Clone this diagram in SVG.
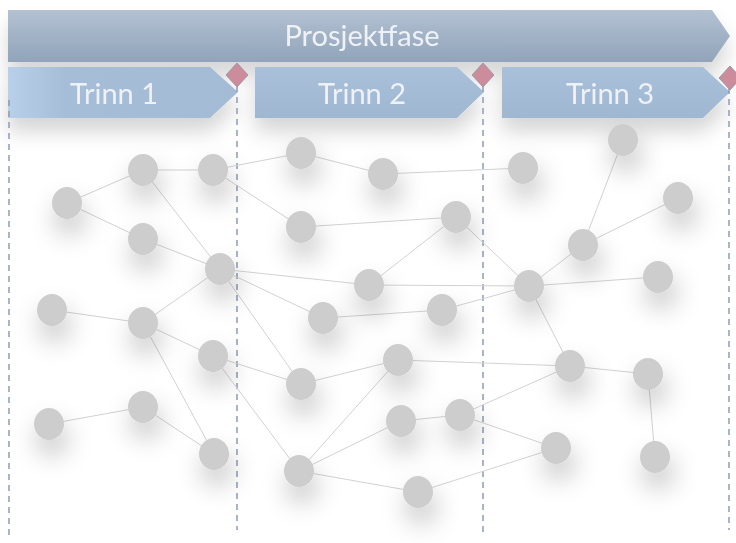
<svg xmlns="http://www.w3.org/2000/svg" width="736" height="543" viewBox="0 0 736 543">
<defs>
  <linearGradient id="gBanner" x1="0" y1="0" x2="0" y2="1">
    <stop offset="0" stop-color="#b3c1d2"/>
    <stop offset="1" stop-color="#91a4ba"/>
  </linearGradient>
  <linearGradient id="gStep" x1="0" y1="0" x2="1" y2="0">
    <stop offset="0" stop-color="#b9d0ea"/>
    <stop offset="0.25" stop-color="#a6bdd8"/>
    <stop offset="1" stop-color="#a4bbd6"/>
  </linearGradient>
  <linearGradient id="gStep2" x1="0" y1="0" x2="0" y2="1">
    <stop offset="0" stop-color="#a9c0db"/>
    <stop offset="1" stop-color="#a0b7d2"/>
  </linearGradient>
  <filter id="shNode" x="-150%" y="-150%" width="400%" height="400%">
    <feDropShadow dx="3" dy="15" stdDeviation="13" flood-color="#000" flood-opacity="0.24"/>
  </filter>
  <filter id="shBar" x="-10%" y="-50%" width="120%" height="250%">
    <feDropShadow dx="0" dy="14" stdDeviation="10" flood-color="#000" flood-opacity="0.16"/>
  </filter>
  <style>
    .node{fill:#cdcdcd;}
    .edge{stroke:#d2d2d2;stroke-width:1;fill:none;}
    .dash{stroke:#8e9ab5;stroke-width:1.5;stroke-dasharray:6,5;fill:none;}
    .lbl{font-family:Lato,"Open Sans","Liberation Sans",sans-serif;fill:#eef2f7;text-anchor:middle;}
    .diamond{fill:#cc8c9c;stroke:#9a9aa6;stroke-width:1;}
  </style>
</defs>
<rect width="736" height="543" fill="#ffffff"/>

<g id="banner" filter="url(#shBar)">
  <polygon points="8,10 712,10 730,36 712,62 8,62" fill="url(#gBanner)"/>
  <text class="lbl" x="362" y="46" font-size="29">Prosjektfase</text>
</g>

<g id="trinn1" filter="url(#shBar)">
  <polygon points="8,67 210,67 238,92 210,118 8,118" fill="url(#gStep)"/>
  <text class="lbl" x="114" y="104" font-size="29">Trinn 1</text>
</g>
<g id="trinn2" filter="url(#shBar)">
  <polygon points="255,67 457,67 484,92 457,118 255,118" fill="url(#gStep2)"/>
  <text class="lbl" x="362" y="104" font-size="29">Trinn 2</text>
</g>
<g id="trinn3" filter="url(#shBar)">
  <polygon points="502,67 703,67 730,92 703,118 502,118" fill="url(#gStep2)"/>
  <text class="lbl" x="610" y="104" font-size="29">Trinn 3</text>
</g>

<g id="milestones">
  <line class="dash" x1="9" y1="100" x2="9" y2="540"/>
  <line class="dash" x1="237" y1="86" x2="237" y2="530"/>
  <line class="dash" x1="483" y1="86" x2="483" y2="534"/>
  <line class="dash" x1="729" y1="88" x2="729" y2="530"/>
  <polygon class="diamond" points="237,63 248,75 237,87 226,75"/>
  <polygon class="diamond" points="483,63 494,75 483,87 472,75"/>
  <polygon class="diamond" points="730,66 741,78 730,90 719,78"/>
</g>

<g id="connectors">
  <line class="edge" x1="67" y1="203" x2="143" y2="170"/>
  <line class="edge" x1="67" y1="203" x2="143" y2="239"/>
  <line class="edge" x1="143" y1="170" x2="213" y2="170"/>
  <line class="edge" x1="143" y1="170" x2="220" y2="269"/>
  <line class="edge" x1="143" y1="239" x2="220" y2="269"/>
  <line class="edge" x1="213" y1="170" x2="301" y2="153"/>
  <line class="edge" x1="213" y1="170" x2="301" y2="227"/>
  <line class="edge" x1="301" y1="153" x2="383" y2="174"/>
  <line class="edge" x1="383" y1="174" x2="523" y2="168"/>
  <line class="edge" x1="301" y1="227" x2="456" y2="217"/>
  <line class="edge" x1="220" y1="269" x2="369" y2="285"/>
  <line class="edge" x1="220" y1="269" x2="323" y2="318"/>
  <line class="edge" x1="220" y1="269" x2="143" y2="323"/>
  <line class="edge" x1="220" y1="269" x2="301" y2="384"/>
  <line class="edge" x1="52" y1="310" x2="143" y2="323"/>
  <line class="edge" x1="143" y1="323" x2="213" y2="356"/>
  <line class="edge" x1="143" y1="323" x2="214" y2="454"/>
  <line class="edge" x1="213" y1="356" x2="301" y2="384"/>
  <line class="edge" x1="213" y1="356" x2="299" y2="471"/>
  <line class="edge" x1="49" y1="424" x2="143" y2="407"/>
  <line class="edge" x1="143" y1="407" x2="214" y2="454"/>
  <line class="edge" x1="301" y1="384" x2="398" y2="360"/>
  <line class="edge" x1="299" y1="471" x2="398" y2="360"/>
  <line class="edge" x1="299" y1="471" x2="401" y2="421"/>
  <line class="edge" x1="299" y1="471" x2="418" y2="492"/>
  <line class="edge" x1="369" y1="285" x2="456" y2="217"/>
  <line class="edge" x1="369" y1="285" x2="529" y2="286"/>
  <line class="edge" x1="456" y1="217" x2="529" y2="286"/>
  <line class="edge" x1="323" y1="318" x2="442" y2="310"/>
  <line class="edge" x1="442" y1="310" x2="529" y2="286"/>
  <line class="edge" x1="529" y1="286" x2="583" y2="245"/>
  <line class="edge" x1="583" y1="245" x2="623" y2="140"/>
  <line class="edge" x1="583" y1="245" x2="678" y2="198"/>
  <line class="edge" x1="529" y1="286" x2="658" y2="277"/>
  <line class="edge" x1="529" y1="286" x2="570" y2="366"/>
  <line class="edge" x1="398" y1="360" x2="570" y2="366"/>
  <line class="edge" x1="570" y1="366" x2="648" y2="374"/>
  <line class="edge" x1="648" y1="374" x2="655" y2="457"/>
  <line class="edge" x1="401" y1="421" x2="460" y2="415"/>
  <line class="edge" x1="460" y1="415" x2="570" y2="366"/>
  <line class="edge" x1="460" y1="415" x2="556" y2="448"/>
  <line class="edge" x1="418" y1="492" x2="556" y2="448"/>
</g>

<g id="nodes" filter="url(#shNode)">
  <g id="n1"><ellipse class="node" cx="67" cy="203" rx="15" ry="16"/></g>
  <g id="n2"><ellipse class="node" cx="143" cy="170" rx="15" ry="16"/></g>
  <g id="n3"><ellipse class="node" cx="213" cy="170" rx="15" ry="16"/></g>
  <g id="n4"><ellipse class="node" cx="143" cy="239" rx="15" ry="16"/></g>
  <g id="n5"><ellipse class="node" cx="220" cy="269" rx="15" ry="16"/></g>
  <g id="n6"><ellipse class="node" cx="52" cy="310" rx="15" ry="16"/></g>
  <g id="n7"><ellipse class="node" cx="143" cy="323" rx="15" ry="16"/></g>
  <g id="n8"><ellipse class="node" cx="301" cy="153" rx="15" ry="16"/></g>
  <g id="n9"><ellipse class="node" cx="301" cy="227" rx="15" ry="16"/></g>
  <g id="n10"><ellipse class="node" cx="323" cy="318" rx="15" ry="16"/></g>
  <g id="n11"><ellipse class="node" cx="369" cy="285" rx="15" ry="16"/></g>
  <g id="n12"><ellipse class="node" cx="383" cy="174" rx="15" ry="16"/></g>
  <g id="n13"><ellipse class="node" cx="523" cy="168" rx="15" ry="16"/></g>
  <g id="n14"><ellipse class="node" cx="456" cy="217" rx="15" ry="16"/></g>
  <g id="n15"><ellipse class="node" cx="442" cy="310" rx="15" ry="16"/></g>
  <g id="n16"><ellipse class="node" cx="529" cy="286" rx="15" ry="16"/></g>
  <g id="n17"><ellipse class="node" cx="583" cy="245" rx="15" ry="16"/></g>
  <g id="n18"><ellipse class="node" cx="623" cy="140" rx="15" ry="16"/></g>
  <g id="n19"><ellipse class="node" cx="678" cy="198" rx="15" ry="16"/></g>
  <g id="n20"><ellipse class="node" cx="658" cy="277" rx="15" ry="16"/></g>
  <g id="n21"><ellipse class="node" cx="213" cy="356" rx="15" ry="16"/></g>
  <g id="n22"><ellipse class="node" cx="301" cy="384" rx="15" ry="16"/></g>
  <g id="n23"><ellipse class="node" cx="49" cy="424" rx="15" ry="16"/></g>
  <g id="n24"><ellipse class="node" cx="143" cy="407" rx="15" ry="16"/></g>
  <g id="n25"><ellipse class="node" cx="214" cy="454" rx="15" ry="16"/></g>
  <g id="n26"><ellipse class="node" cx="299" cy="471" rx="15" ry="16"/></g>
  <g id="n27"><ellipse class="node" cx="398" cy="360" rx="15" ry="16"/></g>
  <g id="n28"><ellipse class="node" cx="401" cy="421" rx="15" ry="16"/></g>
  <g id="n29"><ellipse class="node" cx="460" cy="415" rx="15" ry="16"/></g>
  <g id="n30"><ellipse class="node" cx="570" cy="366" rx="15" ry="16"/></g>
  <g id="n31"><ellipse class="node" cx="648" cy="374" rx="15" ry="16"/></g>
  <g id="n32"><ellipse class="node" cx="556" cy="448" rx="15" ry="16"/></g>
  <g id="n33"><ellipse class="node" cx="655" cy="457" rx="15" ry="16"/></g>
  <g id="n34"><ellipse class="node" cx="418" cy="492" rx="15" ry="16"/></g>
</g>
</svg>
